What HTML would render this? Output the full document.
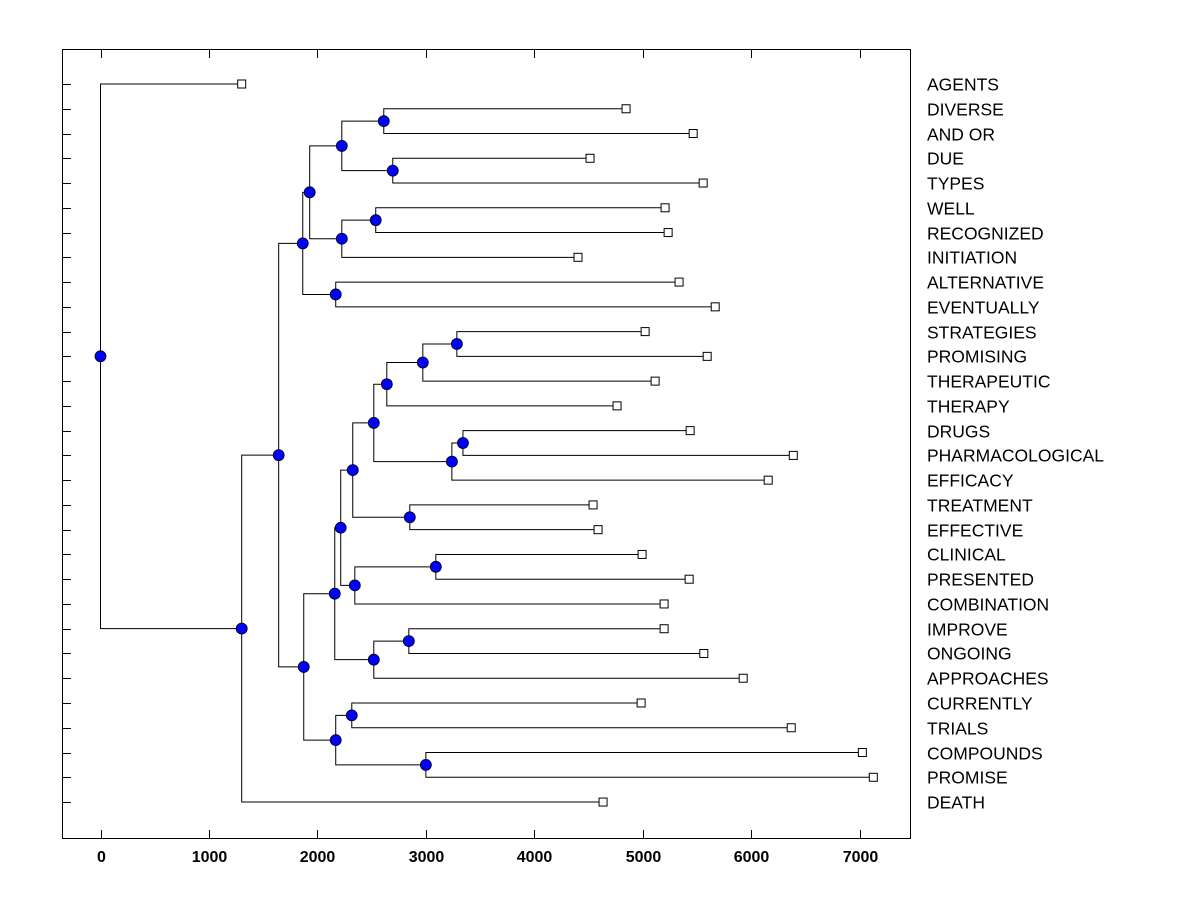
<!DOCTYPE html>
<html><head><meta charset="utf-8"><style>
body{margin:0;background:#fff}
svg text{font-family:"Liberation Sans",Arial,sans-serif}
</style></head><body>
<svg id="chart" width="1200" height="900" xmlns="http://www.w3.org/2000/svg">
<rect x="62.5" y="49.5" width="848" height="789" fill="none" stroke="#000" stroke-width="1"/>
<g id="g"></g>
</svg>
<script>
const labels=["AGENTS","DIVERSE","AND OR","DUE","TYPES","WELL","RECOGNIZED","INITIATION","ALTERNATIVE","EVENTUALLY","STRATEGIES","PROMISING","THERAPEUTIC","THERAPY","DRUGS","PHARMACOLOGICAL","EFFICACY","TREATMENT","EFFECTIVE","CLINICAL","PRESENTED","COMBINATION","IMPROVE","ONGOING","APPROACHES","CURRENTLY","TRIALS","COMPOUNDS","PROMISE","DEATH"];
const leafValues=[1302,4846,5465,4514,5557,5206,5234,4403,5335,5668,5022,5594,5114,4763,5437,6388,6157,4542,4588,4994,5428,5197,5197,5563,5926,4985,6369,7025,7126,4634];
// merges: [childA, childB, height]; leaves are "L<i>", internal nodes "N<j>"
const merges=[
["L1","L2",2612],["L3","L4",2695],["N0","N1",2225],
["L5","L6",2538],["N3","L7",2225],["N2","N4",1929],
["L8","L9",2169],["N5","N6",1865],
["L10","L11",3286],["N8","L12",2972],["N9","L13",2640],
["L14","L15",3342],["N11","L16",3240],["N10","N12",2520],
["L17","L18",2852],["N13","N14",2326],
["L19","L20",3092],["N16","L21",2345],["N15","N17",2215],
["L22","L23",2843],["N19","L24",2520],["N18","N20",2160],
["L25","L26",2317],["L27","L28",3000],["N22","N23",2169],
["N21","N24",1874],["N7","N25",1643],["N26","L29",1302],["L0","N27",0]
];
const xTicks=[0,1000,2000,3000,4000,5000,6000,7000];
const NS="http://www.w3.org/2000/svg";
const g=document.getElementById('g');
const X=v=>100.5+v*0.10845;
const Y=i=>84+i*24.76;
function mk(t,a){const e=document.createElementNS(NS,t);for(const k in a)e.setAttribute(k,a[k]);g.appendChild(e);return e;}
xTicks.forEach(v=>{
 const x=Math.round(X(v))+0.5;
 let e=mk('line',{x1:x,x2:x,y1:838,y2:830,stroke:'#000'});
 
 
 e=mk('line',{x1:x,x2:x,y1:50,y2:58,stroke:'#000'});
 
 
 e=mk('text',{x:x,y:862,'text-anchor':'middle','font-size':16,'font-weight':'bold'});
 e.textContent=v;
 
 
});
labels.forEach((l,i)=>{
 const y=Math.round(Y(i))+0.5;
 let e=mk('line',{x1:63,x2:71,y1:y,y2:y,stroke:'#000'});
 
 
 e=mk('text',{x:927,y:y+6,'font-size':17.5});
 e.textContent=l;
 
 
});
const pos={};
labels.forEach((l,i)=>{pos['L'+i]={x:X(leafValues[i]),y:Y(i)};});
const nodes=[];
merges.forEach((m,j)=>{
 const a=pos[m[0]],b=pos[m[1]],x=X(m[2]);
 const y=(a.y+b.y)/2;
 pos['N'+j]={x:x,y:y};
 let e=mk('path',{d:`M${a.x},${a.y}H${x}V${b.y}H${b.x}`,fill:'none',stroke:'#000','stroke-width':1});
 
 
 nodes.push({x:x,y:y});
});
labels.forEach((l,i)=>{
 const p=pos['L'+i];
 const e=mk('rect',{x:p.x-4,y:p.y-4,width:8,height:8,fill:'#fff',stroke:'#000'});
 
 
});
nodes.forEach(n=>{
 const e=mk('circle',{cx:n.x,cy:n.y,r:5.5,fill:'#0000ff',stroke:'#000','stroke-width':0.8});
 
 
});
</script>
</body></html>
